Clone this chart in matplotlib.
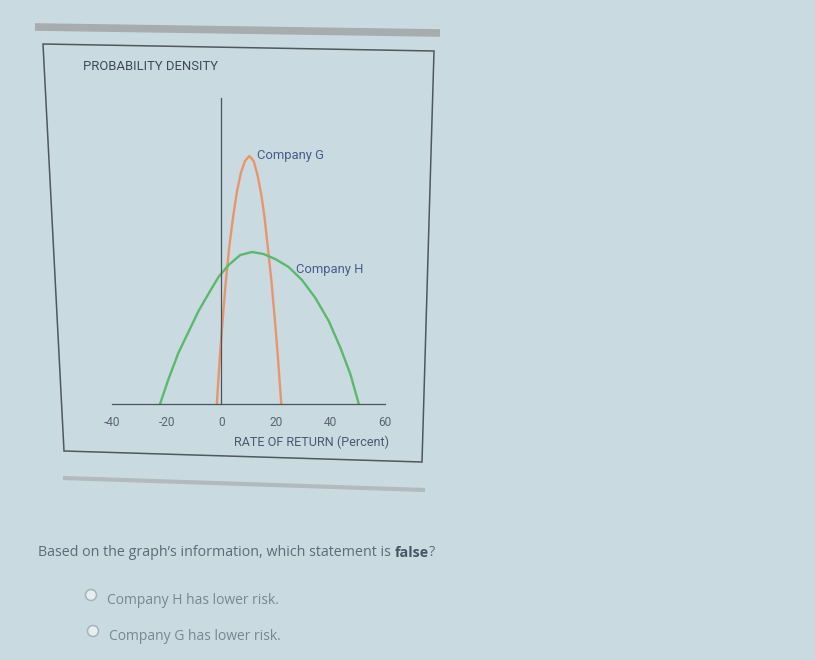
import matplotlib
matplotlib.use("Agg")
import matplotlib.pyplot as plt
from matplotlib.patches import Circle, Polygon

# rate of return (percent) and density
g_x = [-1.6, -0.6, 0.5, 1.7, 2.9, 4.3, 5.8, 7.2, 8.7, 10.3,
       11.9, 13.3, 14.7, 15.9, 17.1, 18.4, 19.6, 20.8, 22.0]
g_y = [0.000, 0.043, 0.083, 0.123, 0.156, 0.186, 0.213, 0.231, 0.243, 0.248,
       0.243, 0.229, 0.209, 0.186, 0.156, 0.123, 0.086, 0.046, 0.000]

h_x = [-22.4, -19.3, -15.7, -12.0, -8.3, -4.7, -1.0, 2.7, 7.0, 11.3,
       15.5, 19.8, 24.7, 29.6, 34.5, 39.4, 43.7, 47.3, 50.4]
h_y = [0.000, 0.025, 0.051, 0.072, 0.093, 0.110, 0.127, 0.139, 0.149, 0.152,
       0.150, 0.145, 0.137, 0.124, 0.106, 0.083, 0.056, 0.030, 0.000]

x_ticks = [-40, -20, 0, 20, 40, 60]
series_names = ["Company G", "Company H"]
question = "Based on the graph\u2019s information, which statement is "
options = ["Company H has lower risk.", "Company G has lower risk."]

BG = "#c9dbe1"
W, H = 815, 660
chart_font = ["Roboto", "DejaVu Sans"]
q_font = ["Open Sans", "DejaVu Sans"]

fig = plt.figure(figsize=(W / 100, H / 100), dpi=100)
fig.patch.set_facecolor(BG)

# full figure layer in pixel coordinates for frame and text
bg = fig.add_axes([0, 0, 1, 1])
bg.set_xlim(0, W)
bg.set_ylim(H, 0)
bg.axis("off")
bg.patch.set_alpha(0)

bg.plot([35, 440], [27, 33], color="#a7acaf", lw=5.5, solid_capstyle="butt")
bg.plot([63, 425], [478, 490], color="#b3babd", lw=3, solid_capstyle="butt")
bg.add_patch(Polygon([(43, 44), (434, 51), (422, 462), (64, 451)], closed=True,
                     fill=False, edgecolor="#50575d", lw=1.1))

bg.text(83, 67, "PROBABILITY DENSITY", fontsize=9.4, family=chart_font,
        color="#3e4858", va="center", ha="left")
bg.text(312, 442, "RATE OF RETURN (Percent)", fontsize=9.1, family=chart_font,
        color="#4c5870", va="center", ha="center")

# chart
x0, x1 = 112, 385
y_base, y_top = 404, 98
ax = fig.add_axes([x0 / W, (H - y_base) / H, (x1 - x0) / W, (y_base - y_top) / H])
ax.patch.set_alpha(0)
ax.set_xlim(-40, 60)
ax.set_ylim(0, 0.306)

ax.plot(g_x, g_y, color="#e8956c", lw=1.7, solid_joinstyle="round")
ax.plot(h_x, h_y, color="#5cb86c", lw=1.7, solid_joinstyle="round")

ax.text(13.0, 0.248, series_names[0], fontsize=9.4, family=chart_font,
        color="#4a5a8c", va="center", ha="left")
ax.text(27.3, 0.134, series_names[1], fontsize=9.4, family=chart_font,
        color="#4a5a8c", va="center", ha="left")

for s in ["top", "right"]:
    ax.spines[s].set_visible(False)
ax.spines["left"].set_position(("data", 0))
ax.spines["left"].set_color("#4c535a")
ax.spines["bottom"].set_color("#4c535a")
ax.spines["left"].set_linewidth(0.9)
ax.spines["bottom"].set_linewidth(0.9)
ax.set_yticks([])
ax.set_xticks(x_ticks)
ax.set_xticklabels([str(t) for t in x_ticks], fontsize=8.6, family=chart_font, color="#5a6472")
ax.tick_params(axis="x", length=0, pad=9)

# question text
fig.canvas.draw()
r = fig.canvas.get_renderer()
t1 = bg.text(38, 553, question, fontsize=10.3, family=q_font,
             color="#5d6a78", va="center", ha="left")
bb = t1.get_window_extent(r)
t2 = bg.text(bb.x1, 553, "false", fontsize=10.3, family=q_font, weight="bold",
             color="#485563", va="center", ha="left")
bb2 = t2.get_window_extent(r)
bg.text(bb2.x1, 553, "?", fontsize=10.3, family=q_font,
        color="#5d6a78", va="center", ha="left")

for i, (cx, cy) in enumerate([(91, 595), (93, 631)]):
    bg.add_patch(Circle((cx, cy), 5.5, facecolor="#e6eef0", edgecolor="#a7b2b8", lw=1.1))
    bg.text(cx + 16, cy + 5, options[i], fontsize=10.0, family=q_font,
            color="#7a8692", va="center", ha="left")

fig.savefig("out.png", dpi=100, facecolor=BG)
